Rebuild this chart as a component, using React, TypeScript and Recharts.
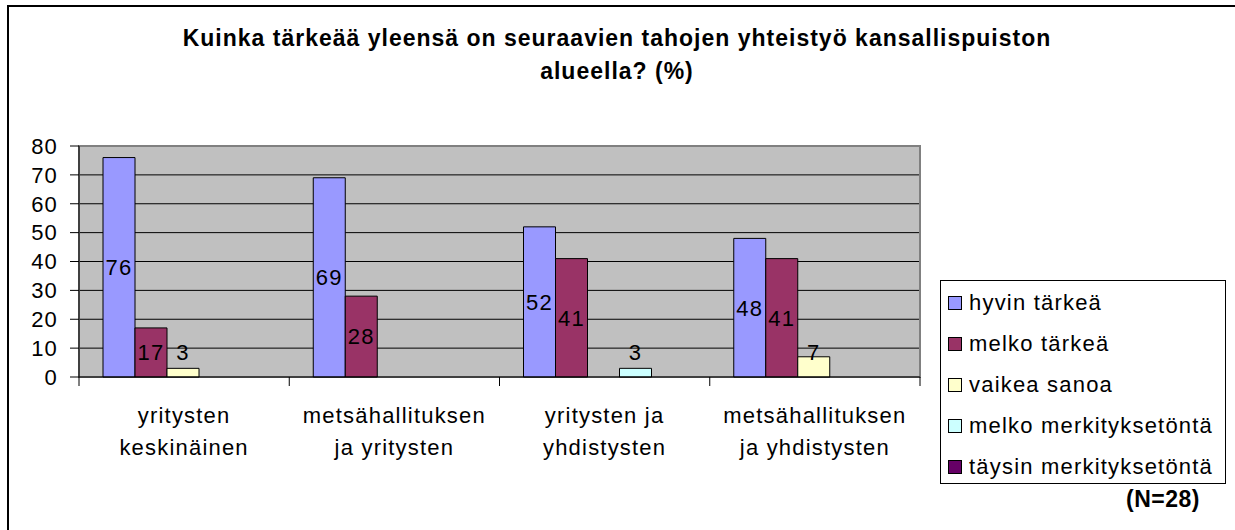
import { Bar, BarChart, CartesianGrid, LabelList, ReferenceArea, XAxis, YAxis } from "recharts";

const CATEGORIES = [
  "yritysten\nkeskinäinen",
  "metsähallituksen\nja yritysten",
  "yritysten ja\nyhdistysten",
  "metsähallituksen\nja yhdistysten",
];
const SERIES_NAMES = [
  "hyvin tärkeä",
  "melko tärkeä",
  "vaikea sanoa",
  "melko merkityksetöntä",
  "täysin merkityksetöntä",
];
const HYVIN_TARKEA = [76, 69, 52, 48];
const MELKO_TARKEA = [17, 28, 41, 41];
const VAIKEA_SANOA = [3, 0, 0, 7];
const MELKO_MERK = [0, 0, 3, 0];
const TAYSIN_MERK = [0, 0, 0, 0];
const Y_TICKS = [0, 10, 20, 30, 40, 50, 60, 70, 80];

const COLORS = ["#9999FF", "#993366", "#FFFFCC", "#CCFFFF", "#660066"];
const KEYS = ["s0", "s1", "s2", "s3", "s4"];
const FONT = "'Liberation Sans', Arial, sans-serif";

const W = 1235;
const H = 530;
const PLOT_LEFT = 79;
const PLOT_RIGHT = 920;
const PLOT_TOP = 146;
const PLOT_BOTTOM = 377;
const BAND = (PLOT_RIGHT - PLOT_LEFT) / CATEGORIES.length;

const data = CATEGORIES.map((name, i) => ({
  name,
  s0: HYVIN_TARKEA[i],
  s1: MELKO_TARKEA[i],
  s2: VAIKEA_SANOA[i],
  s3: MELKO_MERK[i],
  s4: TAYSIN_MERK[i],
}));

const CategoryTick = (props: any) => {
  const { x, index, payload } = props;
  const lines = String(payload.value).split("\n");
  const left = x - BAND / 2;
  return (
    <g>
      <line x1={left} x2={left} y1={PLOT_BOTTOM} y2={PLOT_BOTTOM + 9} stroke="#000" />
      {index === CATEGORIES.length - 1 && (
        <line x1={x + BAND / 2} x2={x + BAND / 2} y1={PLOT_BOTTOM} y2={PLOT_BOTTOM + 9} stroke="#000" />
      )}
      <text x={x} y={PLOT_BOTTOM + 46} textAnchor="middle" fontSize={22} fill="#000">
        {lines.map((l, i) => (
          <tspan key={i} x={x} dy={i === 0 ? 0 : 32}>
            {l}
          </tspan>
        ))}
      </text>
    </g>
  );
};

const ValueLabel = (props: any) => {
  const { x, y, width, height, value } = props;
  if (!value) return null;
  const cy = Math.min(y + height / 2, PLOT_BOTTOM - 25);
  return (
    <text x={x + width / 2} y={cy} dy="0.36em" textAnchor="middle" fontSize={22} fill="#000">
      {value}
    </text>
  );
};

export default function App() {
  return (
    <div
      style={{
        position: "absolute",
        left: 0,
        top: 0,
        width: W,
        height: H,
        overflow: "hidden",
        background: "#fff",
        fontFamily: FONT,
        letterSpacing: 1.2,
      }}
    >
      <div
        style={{
          position: "absolute",
          left: 7,
          top: 5,
          width: W + 20,
          height: H + 20,
          border: "2px solid #000",
        }}
      />
      <div
        style={{
          position: "absolute",
          left: 0,
          top: 22,
          width: 1234,
          textAlign: "center",
          fontSize: 23,
          fontWeight: "bold",
          lineHeight: "33px",
          letterSpacing: 1,
        }}
      >
        Kuinka tärkeää yleensä on seuraavien tahojen yhteistyö kansallispuiston
        <br />
        alueella? (%)
      </div>
      <div style={{ position: "absolute", left: 0, top: 0 }}>
        <BarChart
          width={W}
          height={H}
          data={data}
          margin={{ top: PLOT_TOP, right: W - PLOT_RIGHT, bottom: H - PLOT_BOTTOM - 60, left: PLOT_LEFT - 60 }}
          barCategoryGap={24}
          barGap={0}
          style={{ fontFamily: FONT, letterSpacing: 1.2 }}
        >
          <CartesianGrid vertical={false} stroke="#000" fill="#C0C0C0" fillOpacity={1} />
          <ReferenceArea y1={0} y2={80} stroke="#808080" strokeWidth={2} fill="none" />
          {KEYS.map((k, i) => (
            <Bar key={k} dataKey={k} name={SERIES_NAMES[i]} fill={COLORS[i]} stroke="#000" isAnimationActive={false}>
              <LabelList dataKey={k} content={ValueLabel} />
            </Bar>
          ))}
          <XAxis
            dataKey="name"
            height={60}
            interval={0}
            tickLine={false}
            axisLine={{ stroke: "#000" }}
            tick={CategoryTick}
          />
          <YAxis
            width={60}
            domain={[0, 80]}
            ticks={Y_TICKS}
            interval={0}
            tickSize={9}
            tickMargin={12}
            tickLine={{ stroke: "#000" }}
            axisLine={{ stroke: "#000" }}
            tick={{ fill: "#000", fontSize: 22 }}
          />
        </BarChart>
      </div>
      <div
        style={{
          position: "absolute",
          left: 940,
          top: 280,
          width: 284,
          height: 200,
          border: "1px solid #000",
          background: "#fff",
          paddingTop: 1.5,
          boxSizing: "content-box",
        }}
      >
        {SERIES_NAMES.map((n, i) => (
          <div key={n} style={{ display: "flex", alignItems: "center", height: 41, fontSize: 22 }}>
            <span
              style={{
                display: "inline-block",
                width: 12,
                height: 12,
                border: "1px solid #000",
                background: COLORS[i],
                marginLeft: 7,
                marginRight: 7,
              }}
            />
            <span>{n}</span>
          </div>
        ))}
      </div>
      <div
        style={{
          position: "absolute",
          left: 1163 - 60,
          width: 120,
          top: 487,
          textAlign: "center",
          fontSize: 23,
          fontWeight: "bold",
          lineHeight: "24px",
          letterSpacing: 0.5,
        }}
      >
        (N=28)
      </div>
    </div>
  );
}
